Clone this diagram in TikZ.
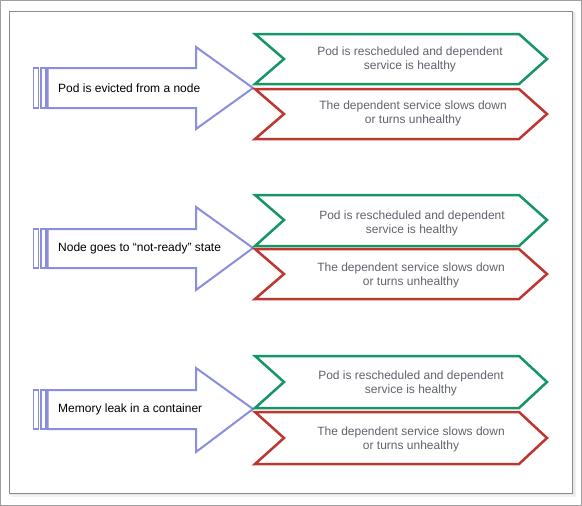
\documentclass[tikz,border=0pt]{standalone}
\usepackage{fontspec}
\setmainfont{Liberation Sans}
\usepackage{tikz}
\definecolor{evblue}{RGB}{138,142,222}
\definecolor{okgreen}{RGB}{22,150,100}
\definecolor{badred}{RGB}{190,54,48}
\definecolor{txtgray}{RGB}{95,99,108}
\tikzset{
    cause/.style={draw=evblue, line width=2pt, fill=white, line join=miter},
    stripe/.style={draw=evblue, line width=1.4pt},
    okbox/.style={draw=okgreen, line width=2.5pt, line join=miter},
    badbox/.style={draw=badred, line width=2.5pt, line join=miter},
    causetext/.style={anchor=west, inner sep=0pt, font=\fontsize{12}{14}\selectfont},
    effecttext/.style={align=center, inner sep=0pt, text=txtgray, font=\fontsize{12}{14}\selectfont}
}

\begin{document}
\begin{tikzpicture}[x=1pt, y=-1pt]
        \useasboundingbox (0,0) rectangle (582,506);
        % frames
        \draw[gray!75, line width=1pt] (0.5,0.5) rectangle (581.5,505.5);
        \fill[black!5] (11,13) rectangle (576,497);
        \fill[black!9] (10,12) rectangle (574.5,495);
        \draw[gray!90, fill=white, line width=1pt] (9.5,11.5) rectangle (572.5,493.5);
        % first cause
        \coordinate (t1) at (253,88);
        \draw[stripe] (33.5,68) rectangle (38.5,108);
        \draw[stripe] (41,68) rectangle (46,108);
        \draw[cause] (47.5,68) -- (196,68) -- (196,47) -- (t1) -- (196,129) -- (196,108) -- (47.5,108) -- cycle;
        \draw[okbox] (255,34) -- (519,34) -- (547,59) -- (519,84) -- (255,84) -- (284,59) -- cycle;
        \draw[badbox] (255,89) -- (519,89) -- (547,114) -- (519,139) -- (255,139) -- (284,114) -- cycle;
        \node (c1) [causetext] at (58,88) {Pod is evicted from a node};
        \node (ok1) [effecttext] at (410,59) {Pod is rescheduled and dependent\\service is healthy};
        \node (bad1) [effecttext] at (413,113) {The dependent service slows down\\or turns unhealthy};
        % second cause
        \coordinate (t2) at (253,248);
        \draw[stripe] (33.5,229) rectangle (38.5,268);
        \draw[stripe] (41,229) rectangle (46,268);
        \draw[cause] (47.5,229) -- (196,229) -- (196,207) -- (t2) -- (196,290) -- (196,268) -- (47.5,268) -- cycle;
        \draw[okbox] (255,195) -- (519,195) -- (547,220) -- (519,246) -- (255,246) -- (284,220) -- cycle;
        \draw[badbox] (255,249) -- (519,249) -- (547,274) -- (519,299) -- (255,299) -- (284,274) -- cycle;
        \node (c2) [causetext] at (58,248) {Node goes to “not-ready” state};
        \node (ok2) [effecttext] at (412,223) {Pod is rescheduled and dependent\\service is healthy};
        \node (bad2) [effecttext] at (411,275) {The dependent service slows down\\or turns unhealthy};
        % third cause
        \coordinate (t3) at (253,409);
        \draw[stripe] (33.5,390) rectangle (38.5,429);
        \draw[stripe] (41,390) rectangle (46,429);
        \draw[cause] (47.5,390) -- (196,390) -- (196,368) -- (t3) -- (196,452) -- (196,429) -- (47.5,429) -- cycle;
        \draw[okbox] (255,356) -- (519,356) -- (547,382) -- (519,408) -- (255,408) -- (284,382) -- cycle;
        \draw[badbox] (255,412) -- (519,412) -- (547,438) -- (519,464) -- (255,464) -- (284,438) -- cycle;
        \node (c3) [causetext] at (58,409) {Memory leak in a container};
        \node (ok3) [effecttext] at (411,383) {Pod is rescheduled and dependent\\service is healthy};
        \node (bad3) [effecttext] at (411,439) {The dependent service slows down\\or turns unhealthy};
\end{tikzpicture}
\end{document}
